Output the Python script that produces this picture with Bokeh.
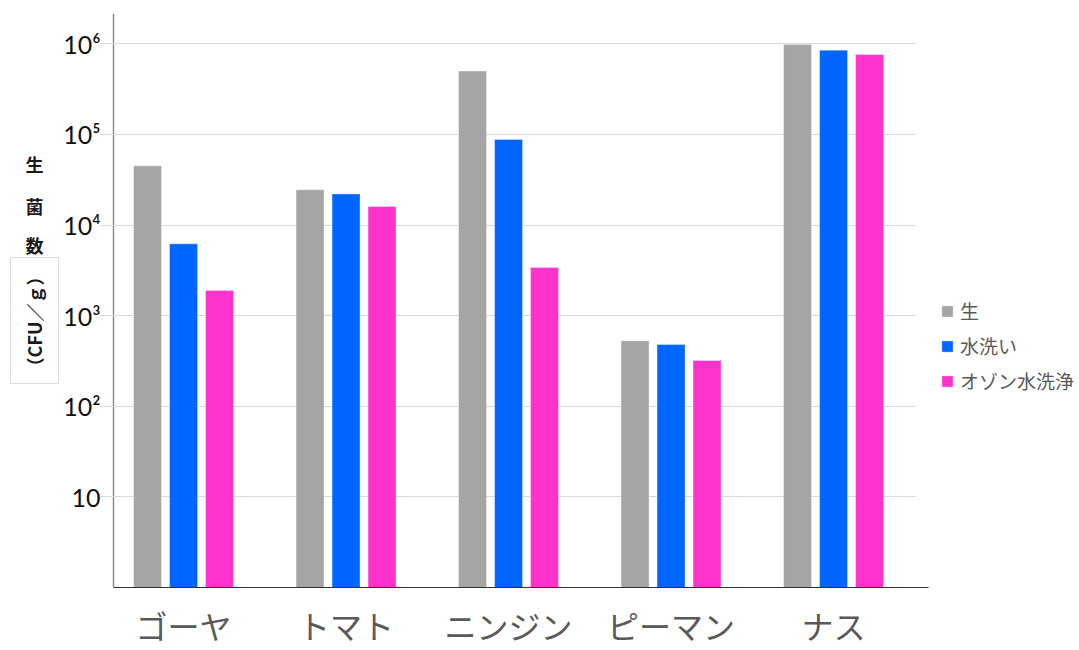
import math

from bokeh.embed import file_html
from bokeh.models import (FixedTicker, Label, Legend, LegendItem, LinearScale,
                          Range1d)
from bokeh.plotting import figure
from bokeh.resources import INLINE

# Viable bacteria counts (CFU/g) per vegetable and treatment
vegetables = ["ゴーヤ", "トマト", "ニンジン", "ピーマン", "ナス"]
raw = [45000, 24500, 500000, 530, 980000]
washed = [6200, 22000, 88000, 480, 850000]
ozone = [1900, 16000, 3400, 320, 760000]
series_names = ["生", "水洗い", "オゾン水洗浄"]
colors = ["#A5A5A5", "#0066FF", "#FF33CC"]
tick_values = [10, 100, 1000, 10000, 100000, 1000000]
tick_labels = ["10", "10²", "10³", "10⁴", "10⁵", "10⁶"]

JP = "Noto Sans CJK JP"
NUM = "Lato"

W, H = 1079, 650
TOP, BOTTOM = 13, 587           # frame top / bottom in page pixels
PX_PER_GROUP = 162.5
AXIS_PX = 113                   # where the value axis sits
X0 = -0.431 - AXIS_PX / PX_PER_GROUP
X1 = X0 + W / PX_PER_GROUP
AXIS_X = -0.431
AXIS_END_X = AXIS_X + 815 / PX_PER_GROUP

p = figure(
    width=W, height=H,
    y_axis_type="log",
    x_range=(X0, X1), y_range=(1, 2.16e6),
    output_backend="svg", toolbar_location=None,
    min_border_left=0, min_border_right=0,
    min_border_top=TOP, min_border_bottom=H - BOTTOM,
)
p.outline_line_color = None
p.background_fill_color = "white"
p.border_fill_color = "white"
p.xgrid.visible = False
p.ygrid.visible = False

# pixel-like helper ranges for the annotation texts
p.extra_x_ranges = {"px": Range1d(0, W)}
p.extra_y_ranges = {"px": Range1d(H - BOTTOM, H - TOP)}
p.extra_x_scales = {"px": LinearScale()}
p.extra_y_scales = {"px": LinearScale()}

# grouped bars: three treatments side by side around each vegetable
bar_width = 0.172
offsets = [-0.2215, 0.0, 0.2215]
series = [raw, washed, ozone]
renderers = []
for vals, off, col in zip(series, offsets, colors):
    xs = [i + off for i in range(len(vegetables))]
    r = p.vbar(x=xs, top=vals, bottom=1, width=bar_width,
               fill_color=col, line_color="white", line_alpha=0.35, line_width=1)
    renderers.append(r)

# log value axis, pinned in place; its long inner ticks serve as grid lines
yax = p.yaxis[0]
yax.fixed_location = AXIS_X
yax.level = "underlay"
yax.ticker = FixedTicker(ticks=tick_values, minor_ticks=[])
yax.major_label_overrides = dict(zip(tick_values, tick_labels))
yax.axis_line_color = "#8c8c8c"
yax.axis_line_width = 1.5
yax.major_tick_out = 13
yax.major_tick_in = 802
yax.major_tick_line_color = "#d9d9d9"
yax.minor_tick_line_color = None
yax.major_label_standoff = 0
yax.major_label_text_font = NUM
yax.major_label_text_font_size = "25px"
yax.major_label_text_color = "#111111"

# category axis with vegetable names
xax = p.xaxis[0]
xax.bounds = (AXIS_X, AXIS_END_X)
xax.ticker = FixedTicker(ticks=list(range(len(vegetables))), minor_ticks=[])
xax.major_label_overrides = {i: name for i, name in enumerate(vegetables)}
xax.axis_line_color = "#333333"
xax.axis_line_width = 1
xax.major_tick_line_color = None
xax.minor_tick_line_color = None
xax.major_tick_out = 0
xax.major_tick_in = 0
xax.major_label_standoff = 14
xax.major_label_text_font = JP
xax.major_label_text_font_size = "32px"
xax.major_label_text_color = "#595959"

# legend to the right of the bars
legend = Legend(
    items=[LegendItem(label=n, renderers=[r]) for n, r in zip(series_names, renderers)],
    location=(940, BOTTOM - 394),
    orientation="vertical",
    glyph_width=14, glyph_height=14,
    label_standoff=6, label_height=20, spacing=8,
    padding=0, margin=0,
    border_line_color=None, background_fill_alpha=0,
    label_text_font=JP, label_text_font_size="19px", label_text_color="#595959",
)
p.add_layout(legend)

# value axis title: stacked characters plus a boxed, rotated unit
for ch, yc in zip(["生", "菌", "数"], [163.5, 205, 244]):
    p.add_layout(Label(
        x=34, y=H - yc, x_range_name="px", y_range_name="px", text=ch,
        text_align="center", text_baseline="middle",
        text_font=JP, text_font_size="18px", text_font_style="bold",
        text_color="#1a1a1a",
    ))

p.quad(left=10, right=58, top=H - 257, bottom=H - 383,
       x_range_name="px", y_range_name="px",
       fill_color="white", line_color="#dddddd", line_width=1)
p.add_layout(Label(
    x=33, y=H - 321, x_range_name="px", y_range_name="px", text="（CFU／ｇ）",
    angle=math.pi / 2, text_align="center", text_baseline="middle",
    text_font=JP, text_font_size="18px", text_font_style="bold",
    text_color="#1a1a1a",
))

open("out.html", "w").write(file_html(p, INLINE))
